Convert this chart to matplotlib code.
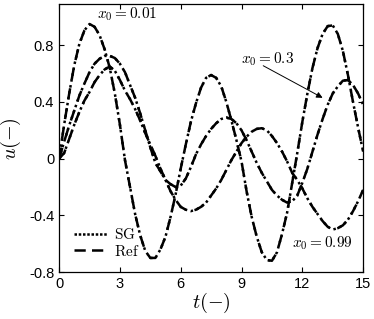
import numpy as np
import matplotlib
matplotlib.use('Agg')
import matplotlib.pyplot as plt

plt.rcParams['font.family'] = ['Liberation Sans', 'DejaVu Sans']
plt.rcParams['mathtext.fontset'] = 'cm'
plt.rcParams['axes.unicode_minus'] = False

# time grid (read every 0.25)
t = np.arange(61) * 0.25

# x0 = 0.01
u_001 = [0.00, 0.24, 0.46, 0.66, 0.81, 0.905, 0.95, 0.93, 0.87, 0.77, 0.64, 0.46, 0.24,
         -0.01, -0.20, -0.39, -0.54, -0.65, -0.70, -0.70, -0.64, -0.55, -0.41, -0.25, -0.07,
         0.10, 0.26, 0.39, 0.50, 0.57, 0.59, 0.57, 0.51, 0.40, 0.27, 0.13, -0.02,
         -0.23, -0.41, -0.55, -0.66, -0.715, -0.72, -0.66, -0.53, -0.38, -0.17, 0.04,
         0.26, 0.46, 0.64, 0.78, 0.88, 0.935, 0.94, 0.88, 0.76, 0.59, 0.40, 0.22, 0.05]
# x0 = 0.3
u_03 = [0.00, 0.12, 0.235, 0.34, 0.445, 0.53, 0.61, 0.67, 0.705, 0.725, 0.725, 0.71, 0.67,
        0.61, 0.52, 0.43, 0.32, 0.20, 0.08, -0.03, -0.09, -0.15, -0.18, -0.20, -0.19,
        -0.14, -0.06, 0.03, 0.10, 0.16, 0.21, 0.25, 0.28, 0.29, 0.28, 0.25, 0.20,
        0.13, 0.05, -0.03, -0.10, -0.16, -0.22, -0.26, -0.29, -0.31, -0.30, -0.26,
        -0.17, -0.07, 0.05, 0.17, 0.28, 0.38, 0.46, 0.51, 0.55, 0.555, 0.52, 0.46, 0.38]
# x0 = 0.99
u_099 = [0.00, 0.04, 0.14, 0.24, 0.33, 0.41, 0.47, 0.54, 0.59, 0.63, 0.65, 0.62, 0.555,
         0.48, 0.42, 0.35, 0.27, 0.18, 0.10, 0.02, -0.07, -0.15, -0.23, -0.29, -0.34,
         -0.36, -0.37, -0.36, -0.34, -0.31, -0.26, -0.21, -0.15, -0.08, -0.01, 0.05, 0.11,
         0.155, 0.19, 0.21, 0.215, 0.20, 0.16, 0.11, 0.05, -0.02, -0.10, -0.15, -0.21,
         -0.28, -0.34, -0.39, -0.44, -0.48, -0.50, -0.49, -0.47, -0.43, -0.37, -0.30, -0.22]

# SG and Ref are indistinguishable at this scale
curves_ref = [u_001, u_03, u_099]
curves_sg = [u_001, u_03, u_099]

fig = plt.figure(figsize=(3.74, 3.19), dpi=100)
ax = fig.add_axes([0.158, 0.147, 0.813, 0.840])

for u in curves_sg:
    ax.plot(t, u, color='k', lw=1.8, linestyle=(0, (1, 1.4)))
for u in curves_ref:
    ax.plot(t, u, color='k', lw=1.8, linestyle=(0, (4.5, 3.5)))

# legend handles
ax.plot([], [], color='k', lw=1.8, linestyle=(0, (1, 0.7)), label=r'$\mathrm{SG}$')
ax.plot([], [], color='k', lw=1.8, linestyle=(0, (4.5, 2.5)), label=r'$\mathrm{Ref}$')
ax.legend(loc='lower left', bbox_to_anchor=(0.05, 0.05), frameon=False, fontsize=11,
          handlelength=2.2, handletextpad=0.4, borderpad=0, borderaxespad=0, labelspacing=0.1)

ax.text(1.86, 1.016, r'$x_0 = 0.01$', fontsize=11, va='center', ha='left')
ax.text(8.98, 0.705, r'$x_0 = 0.3$', fontsize=11, va='center', ha='left')
ax.text(11.5, -0.595, r'$x_0 = 0.99$', fontsize=11, va='center', ha='left')
ax.annotate('', xy=(13.12, 0.42), xytext=(9.95, 0.665),
            arrowprops=dict(arrowstyle='-|>', color='k', lw=0.7, mutation_scale=9))

ax.set_xlim(0, 15)
ax.set_ylim(-0.8, 1.09)
ax.set_xticks([0, 3, 6, 9, 12, 15])
ax.set_yticks([-0.8, -0.4, 0, 0.4, 0.8])
ax.set_yticklabels(['-0.8', '-0.4', '0', '0.4', '0.8'])
ax.tick_params(direction='in', top=True, right=True, labelsize=10.5, length=3.5, width=0.8)
for s in ax.spines.values():
    s.set_linewidth(0.9)

ax.set_xlabel(r'$t(-)$', fontsize=14.5, labelpad=0)
ax.set_ylabel(r'$u(-)$', fontsize=14.5, labelpad=4)

fig.savefig('out.png', dpi=100)
